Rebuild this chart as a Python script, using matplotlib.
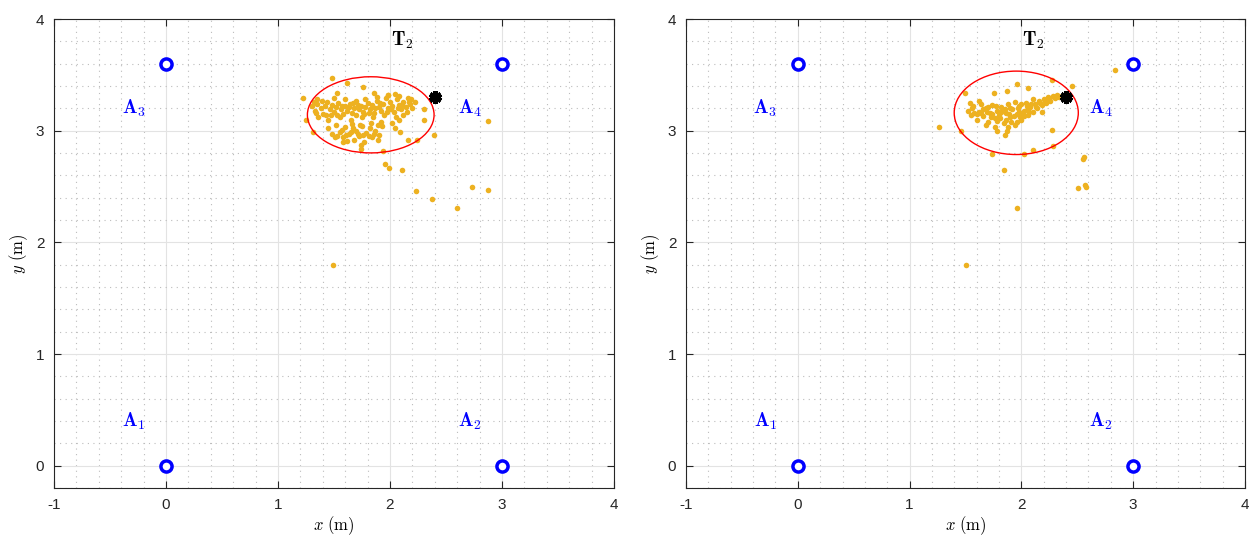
import numpy as np
import matplotlib
matplotlib.use('Agg')
import matplotlib.pyplot as plt
from matplotlib.patches import Ellipse
from matplotlib.ticker import MultipleLocator

plt.rcParams['mathtext.fontset'] = 'cm'
plt.rcParams['font.family'] = ['Liberation Sans', 'DejaVu Sans']
plt.rcParams['axes.unicode_minus'] = False

# anchors and labels
anchor_x = [0, 3, 0, 3]
anchor_y = [0, 0, 3.6, 3.6]
anchor_names = ['A_1', 'A_2', 'A_3', 'A_4']
label_x = [-0.29, 2.71, -0.29, 2.71]
label_y = [0.40, 0.40, 3.20, 3.20]
target = (2.4, 3.3)

# estimated points, left panel
left_x = [1.30, 1.33, 1.35, 1.38, 1.40, 1.42, 1.44, 1.46, 1.48, 1.50, 1.52, 1.54, 1.56, 1.58, 1.60,
          1.62, 1.64, 1.66, 1.68, 1.70, 1.72, 1.74, 1.76, 1.78, 1.80, 1.82, 1.84, 1.86, 1.88, 1.90,
          1.92, 1.94, 1.96, 1.98, 2.00, 2.02, 2.04, 2.06, 2.08, 2.10, 2.12, 2.14, 2.16, 2.18, 2.20,
          2.22, 1.36, 1.45, 1.55, 1.65, 1.75, 1.85, 1.95, 2.05, 1.88, 1.98, 2.08, 1.78, 1.70, 1.60,
          1.50, 1.43, 1.92, 2.02, 2.12, 1.83, 1.73,
          1.32, 1.39, 1.47, 1.53, 1.57, 1.63, 1.67, 1.71, 1.77, 1.81, 1.87, 1.91, 1.97, 2.01, 2.07,
          2.11, 2.15, 2.19,
          1.45, 1.48, 1.52, 1.55, 1.58, 1.60, 1.63, 1.66, 1.68, 1.70, 1.72, 1.75, 1.77, 1.79, 1.82,
          1.84, 1.87, 1.90, 1.93, 1.62, 1.74, 1.53, 1.57, 1.65, 1.71, 1.76, 1.81, 1.86, 1.67, 1.61,
          1.89,
          1.955, 1.991, 2.104, 2.235, 2.375, 2.598, 2.732, 2.878, 1.494, 1.94, 2.878, 2.39, 2.30,
          2.304, 1.485, 1.226, 1.613, 1.762, 1.741, 1.577, 1.315, 1.25, 1.337, 1.345, 1.53, 1.857,
          1.985, 2.045, 2.17, 2.16, 2.24, 2.089, 2.045, 2.083, 1.896, 1.509]
left_y = [3.22, 3.18, 3.24, 3.20, 3.15, 3.22, 3.26, 3.19, 3.23, 3.17, 3.21, 3.25, 3.19, 3.15, 3.22,
          3.18, 3.24, 3.16, 3.20, 3.14, 3.19, 3.22, 3.17, 3.21, 3.25, 3.19, 3.23, 3.16, 3.27, 3.21,
          3.18, 3.24, 3.29, 3.20, 3.26, 3.22, 3.17, 3.28, 3.23, 3.19, 3.26, 3.21, 3.29, 3.24, 3.20,
          3.26, 3.12, 3.10, 3.12, 3.10, 3.12, 3.12, 3.14, 3.12, 3.30, 3.32, 3.31, 3.28, 3.27, 3.28,
          3.29, 3.14, 3.08, 3.07, 3.14, 3.07, 3.05,
          3.26, 3.27, 3.14, 3.14, 3.22, 3.21, 3.25, 3.23, 3.15, 3.16, 3.20, 3.25, 3.17, 3.19, 3.20,
          3.23, 3.17, 3.28,
          3.02, 2.97, 3.05, 2.99, 2.94, 3.03, 2.97, 3.06, 2.92, 3.00, 2.95, 3.04, 2.90, 2.98, 3.02,
          2.94, 3.00, 2.96, 3.04, 2.91, 2.87, 2.95, 3.01, 2.99, 2.97, 2.96, 2.95, 2.97, 3.02, 2.96,
          3.05,
          2.70, 2.67, 2.652, 2.46, 2.392, 2.311, 2.50, 2.466, 1.794, 2.82, 3.088, 2.957, 3.196,
          3.094, 3.468, 3.294, 3.43, 3.393, 2.84, 2.90, 2.99, 3.094, 3.154, 3.28, 3.34, 3.334,
          3.318, 3.327, 3.258, 2.915, 2.92, 2.99, 3.02, 3.094, 2.915, 2.945]

# estimated points, right panel
right_x = [1.52, 1.55, 1.57, 1.60, 1.62, 1.64, 1.66, 1.68, 1.70, 1.72, 1.74, 1.76, 1.78, 1.80, 1.82,
           1.84, 1.86, 1.88, 1.90, 1.92, 1.94, 1.96, 1.98, 2.00, 2.02, 2.04, 2.06, 2.08, 2.10, 2.12,
           2.14, 2.16, 2.18, 2.20, 2.22, 2.24, 2.26, 2.28, 2.30, 2.32, 2.34, 2.36,
           1.58, 1.66, 1.74, 1.82, 1.90, 1.98, 2.06, 1.86, 1.78, 1.70, 1.94, 2.00, 2.10, 1.62, 1.88,
           1.96, 2.02, 2.18, 1.54, 1.68, 1.76,
           1.56, 1.60, 1.64, 1.69, 1.73, 1.77, 1.81, 1.85, 1.89, 1.93, 1.97, 2.01, 2.05, 2.09, 2.13,
           2.17, 2.21, 2.25, 2.29, 2.33, 1.91, 1.99, 2.07,
           1.265, 1.495, 1.755, 1.868, 1.958, 2.059, 2.271, 2.45, 2.838, 2.271, 2.28, 2.107, 2.023,
           1.734, 1.844, 1.457, 1.963, 2.549, 2.56, 2.51, 2.57, 2.58, 1.779, 1.874, 1.856, 1.504]
right_y = [3.18, 3.14, 3.22, 3.10, 3.17, 3.24, 3.13, 3.20, 3.08, 3.16, 3.23, 3.11, 3.18, 3.14, 3.21,
           3.07, 3.16, 3.24, 3.12, 3.19, 3.05, 3.15, 3.22, 3.10, 3.18, 3.25, 3.14, 3.21, 3.17, 3.24,
           3.20, 3.27, 3.23, 3.28, 3.25, 3.30, 3.27, 3.31, 3.29, 3.32, 3.30, 3.31,
           3.16, 3.19, 3.15, 3.17, 3.20, 3.17, 3.19, 3.10, 3.09, 3.21, 3.26, 3.24, 3.28, 3.27, 3.03,
           3.08, 3.13, 3.17, 3.25, 3.05, 3.03,
           3.20, 3.15, 3.16, 3.17, 3.12, 3.22, 3.11, 3.19, 3.15, 3.13, 3.20, 3.15, 3.22, 3.24, 3.21,
           3.25, 3.27, 3.29, 3.30, 3.31, 3.08, 3.12, 3.17,
           3.034, 3.334, 3.334, 3.354, 3.42, 3.384, 3.456, 3.40, 3.543, 3.01, 2.864, 2.825, 2.795,
           2.789, 2.652, 2.995, 2.308, 2.742, 2.76, 2.49, 2.518, 2.50, 2.998, 3.0, 2.96, 1.794]

# fitted ellipses: center x, center y, width, height
left_ell = (1.828, 3.142, 1.131, 0.682)
right_ell = (1.954, 3.160, 1.110, 0.747)

panels = [(left_x, left_y, left_ell), (right_x, right_y, right_ell)]
axes_pos = [[0.0432, 0.0996, 0.448, 0.8653], [0.5488, 0.0996, 0.4472, 0.8653]]

fig = plt.figure(figsize=(12.5, 5.42), dpi=100)

for (px, py, ell), pos in zip(panels, axes_pos):
    ax = fig.add_axes(pos)
    ax.scatter(px, py, s=16, color='#EDB120', zorder=3, linewidths=0)
    ax.add_patch(Ellipse((ell[0], ell[1]), ell[2], ell[3], fill=False,
                         edgecolor='red', lw=1.0, zorder=4))
    ax.plot(target[0], target[1], marker=(6, 2, 0), color='black', ms=9, mew=3.5, zorder=5)
    ax.plot(target[0], target[1], 'o', color='black', ms=6, zorder=5)
    ax.plot(anchor_x, anchor_y, 'o', ls='none', mfc='white', mec='blue', ms=8, mew=2.5, zorder=5)
    for lx, ly, name in zip(label_x, label_y, anchor_names):
        ax.text(lx, ly, r'$\mathbf{%s}_%s$' % (name[0], name[2]), color='blue', fontsize=14,
                ha='center', va='center')
    ax.text(2.107, 3.81, r'$\mathbf{T}_2$', color='black', fontsize=14, ha='center', va='center')

    ax.set_xlim(-1, 4)
    ax.set_ylim(-0.2, 4)
    ax.set_xticks([-1, 0, 1, 2, 3, 4])
    ax.set_yticks([0, 1, 2, 3, 4])
    ax.xaxis.set_minor_locator(MultipleLocator(0.2))
    ax.yaxis.set_minor_locator(MultipleLocator(0.2))
    ax.grid(True, which='major', color='#e3e3e3', lw=0.8)
    ax.grid(True, which='minor', color='#bcbcbc', lw=0.8, ls=(0, (1, 4)))
    ax.set_axisbelow(True)
    ax.tick_params(which='both', direction='in', top=True, right=True, labelsize=11,
                   colors='#262626', labelcolor='#262626')
    ax.tick_params(which='minor', length=0)
    ax.tick_params(which='major', length=5, pad=7)
    for sp in ax.spines.values():
        sp.set_color('#262626')
        sp.set_linewidth(0.8)
    ax.set_xlabel(r'$x\ \mathrm{(m)}$', fontsize=12, labelpad=2)
    ax.set_ylabel(r'$y\ \mathrm{(m)}$', fontsize=12, labelpad=4)

fig.savefig('out.png', dpi=100)
